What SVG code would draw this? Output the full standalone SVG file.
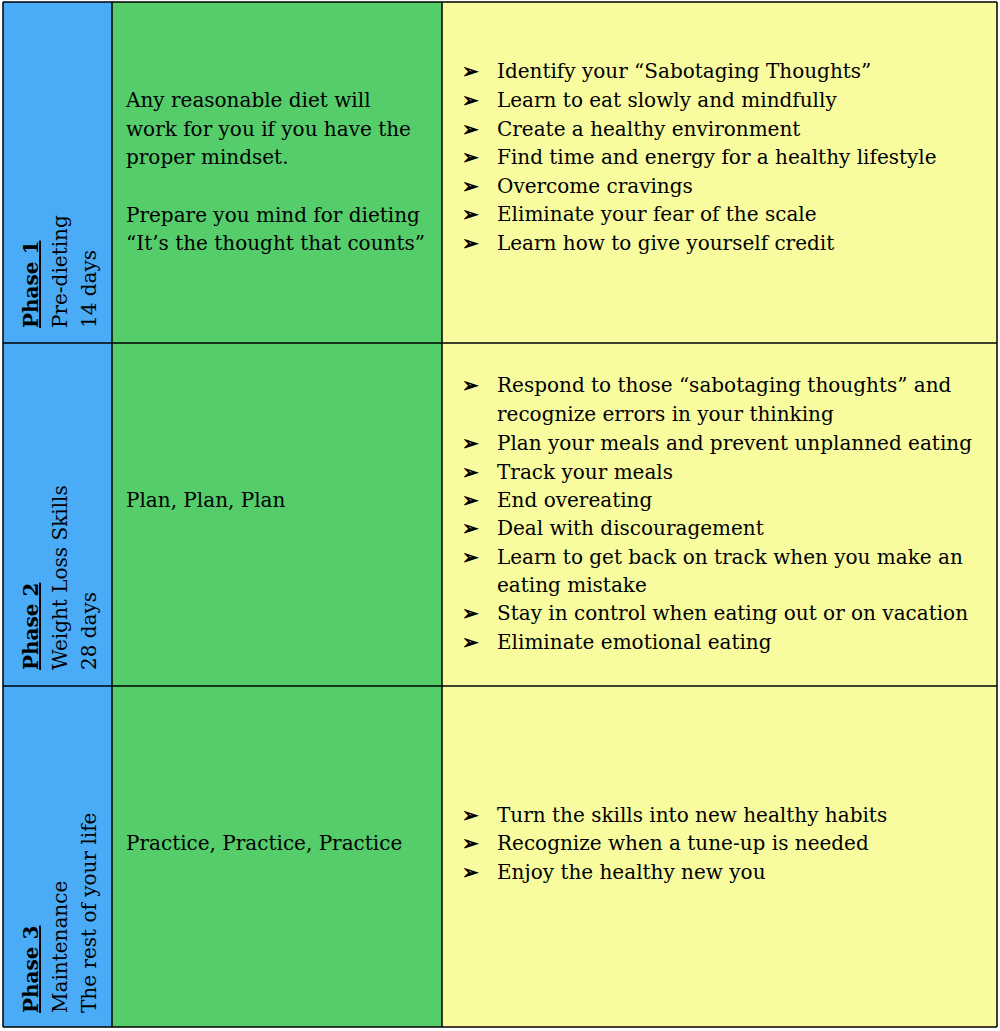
<svg xmlns="http://www.w3.org/2000/svg" width="1000" height="1031" viewBox="0 0 1000 1031">
<style>
text{font-family:"DejaVu Serif","Liberation Serif",serif;font-size:20px;fill:#000}
.b{fill:#4aabf7}.g{fill:#55cd6b}.y{fill:#f8fc9e}
.h{font-weight:bold;text-decoration:underline}
.a{font-weight:bold}
line{stroke:#000;stroke-width:1.5}
</style>
<rect width="1000" height="1031" fill="#fff"/>
<g id="phase1">
<rect class="b" x="3" y="2" width="109" height="341"/>
<rect class="g" x="112" y="2" width="330" height="341"/>
<rect class="y" x="442" y="2" width="555" height="341"/>
<g transform="translate(38,328) rotate(-90)"><text class="h" x="0" y="0">Phase 1</text><text x="0" y="29">Pre-dieting</text><text x="0" y="58">14 days</text></g>
<text x="126" y="107">Any reasonable diet will</text>
<text x="126" y="136">work for you if you have the</text>
<text x="126" y="164">proper mindset.</text>
<text x="126" y="222">Prepare you mind for dieting</text>
<text x="126" y="250">“It’s the thought that counts”</text>
<g>
<text class="a" x="462" y="78">➢</text><text x="497" y="78">Identify your “Sabotaging Thoughts”</text>
<text class="a" x="462" y="107">➢</text><text x="497" y="107">Learn to eat slowly and mindfully</text>
<text class="a" x="462" y="136">➢</text><text x="497" y="136">Create a healthy environment</text>
<text class="a" x="462" y="164">➢</text><text x="497" y="164">Find time and energy for a healthy lifestyle</text>
<text class="a" x="462" y="193">➢</text><text x="497" y="193">Overcome cravings</text>
<text class="a" x="462" y="221">➢</text><text x="497" y="221">Eliminate your fear of the scale</text>
<text class="a" x="462" y="250">➢</text><text x="497" y="250">Learn how to give yourself credit</text>
</g>
</g>
<g id="phase2">
<rect class="b" x="3" y="343" width="109" height="343"/>
<rect class="g" x="112" y="343" width="330" height="343"/>
<rect class="y" x="442" y="343" width="555" height="343"/>
<g transform="translate(38,670) rotate(-90)"><text class="h" x="0" y="0">Phase 2</text><text x="0" y="29">Weight Loss Skills</text><text x="0" y="58">28 days</text></g>
<text x="126" y="507">Plan, Plan, Plan</text>
<g>
<text class="a" x="462" y="392">➢</text><text x="497" y="392">Respond to those “sabotaging thoughts” and</text>
<text x="497" y="421">recognize errors in your thinking</text>
<text class="a" x="462" y="450">➢</text><text x="497" y="450">Plan your meals and prevent unplanned eating</text>
<text class="a" x="462" y="479">➢</text><text x="497" y="479">Track your meals</text>
<text class="a" x="462" y="507">➢</text><text x="497" y="507">End overeating</text>
<text class="a" x="462" y="535">➢</text><text x="497" y="535">Deal with discouragement</text>
<text class="a" x="462" y="564">➢</text><text x="497" y="564">Learn to get back on track when you make an</text>
<text x="497" y="592">eating mistake</text>
<text class="a" x="462" y="620">➢</text><text x="497" y="620">Stay in control when eating out or on vacation</text>
<text class="a" x="462" y="649">➢</text><text x="497" y="649">Eliminate emotional eating</text>
</g>
</g>
<g id="phase3">
<rect class="b" x="3" y="686" width="109" height="341"/>
<rect class="g" x="112" y="686" width="330" height="341"/>
<rect class="y" x="442" y="686" width="555" height="341"/>
<g transform="translate(38,1013) rotate(-90)"><text class="h" x="0" y="0">Phase 3</text><text x="0" y="29">Maintenance</text><text x="0" y="58">The rest of your life</text></g>
<text x="126" y="850">Practice, Practice, Practice</text>
<g>
<text class="a" x="462" y="822">➢</text><text x="497" y="822">Turn the skills into new healthy habits</text>
<text class="a" x="462" y="850">➢</text><text x="497" y="850">Recognize when a tune-up is needed</text>
<text class="a" x="462" y="879">➢</text><text x="497" y="879">Enjoy the healthy new you</text>
</g>
</g>
<g id="grid">
<line x1="3" y1="2" x2="997" y2="2"/><line x1="3" y1="343" x2="997" y2="343"/>
<line x1="3" y1="686" x2="997" y2="686"/><line x1="3" y1="1027" x2="997" y2="1027"/>
<line x1="3" y1="2" x2="3" y2="1027"/><line x1="112" y1="2" x2="112" y2="1027"/>
<line x1="442" y1="2" x2="442" y2="1027"/><line x1="997" y1="2" x2="997" y2="1027"/>
</g>
</svg>
